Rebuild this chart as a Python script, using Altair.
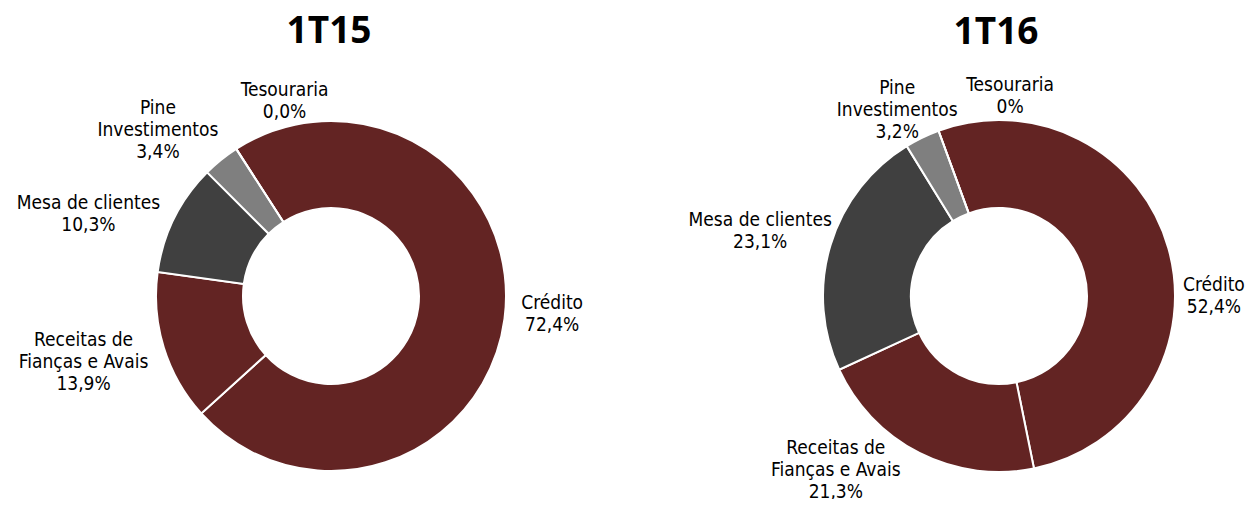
import math
import altair as alt
import pandas as pd

# ---- data ----
categories = ["Crédito", "Receitas de Fianças e Avais", "Mesa de clientes",
              "Pine Investimentos", "Tesouraria"]
label_names = ["Crédito", "Receitas de\nFianças e Avais", "Mesa de clientes",
               "Pine\nInvestimentos", "Tesouraria"]
periods = ["1T15", "1T16"]
values_1t15 = [72.4, 13.9, 10.3, 3.4, 0.0]
values_1t16 = [52.4, 21.3, 23.1, 3.2, 0.0]
pct_1t15 = ["72,4%", "13,9%", "10,3%", "3,4%", "0,0%"]
pct_1t16 = ["52,4%", "21,3%", "23,1%", "3,2%", "0%"]

# ---- styles / layout ----
colors = ["#632423", "#632423", "#404040", "#7f7f7f", "#ffffff"]
FONT = "DejaVu Sans Condensed, Liberation Sans, sans-serif"
TITLE_FONT = "Open Sans, Noto Sans, sans-serif"
W, H = 1240, 491
R_IN, R_LABEL = 88, 215
FS, LH = 19, 22

layout = {
    "1T15": dict(cx=323, cy=288, tx=321, ty=35, start=-32.8, r_out=175,
                 nudge={"Crédito": (8, -10), "Receitas de Fianças e Avais": (-42, 3),
                        "Mesa de clientes": (-50, 14), "Pine Investimentos": (-38, 1),
                        "Tesouraria": (70, -14)}),
    "1T16": dict(cx=991, cy=288, tx=988, ty=36, start=-20.1, r_out=176,
                 nudge={"Crédito": (8, 58), "Receitas de Fianças e Avais": (-66, -18),
                        "Mesa de clientes": (-33, -3), "Pine Investimentos": (-8, 7),
                        "Tesouraria": (85, 2)}),
}

color_scale = alt.Scale(domain=categories, range=colors)

layers = []
for period, vals, pcts in [(periods[0], values_1t15, pct_1t15),
                           (periods[1], values_1t16, pct_1t16)]:
    L = layout[period]
    df = pd.DataFrame({"category": categories, "name": label_names,
                       "value": vals, "pct": pcts, "order": list(range(len(categories)))})
    s = math.radians(L["start"])
    theta_scale = alt.Scale(domain=[0, 100], range=[s, s + 2 * math.pi])

    base = (alt.Chart(df)
            .transform_window(end="sum(value)", sort=[alt.SortField("order")], frame=[None, 0])
            .transform_calculate(start="datum.end - datum.value",
                                 mid="(datum.start + datum.end) / 2",
                                 label="datum.name + '\\n' + datum.pct"))

    arc = base.mark_arc(radius=L["r_out"], innerRadius=R_IN, stroke="white", strokeWidth=2).encode(
        theta=alt.Theta("start:Q", scale=theta_scale, stack=None),
        theta2="end:Q",
        color=alt.Color("category:N", scale=color_scale, legend=None),
        x=alt.value(L["cx"]), y=alt.value(L["cy"]),
    )
    layers.append(arc)

    for cat, name in zip(categories, label_names):
        dx, dy = L["nudge"][cat]
        n_lines = name.count("\n") + 2
        dy_block = dy - (n_lines - 1) * LH / 2  # centre the whole multi-line block
        txt = (base.transform_filter(alt.datum.category == cat)
               .mark_text(radius=R_LABEL, align="center", baseline="middle", lineBreak="\n",
                          font=FONT, fontSize=FS, lineHeight=LH, color="#000000",
                          dx=dx, dy=dy_block)
               .encode(theta=alt.Theta("mid:Q", scale=theta_scale, stack=None),
                       text="label:N",
                       x=alt.value(L["cx"]), y=alt.value(L["cy"])))
        layers.append(txt)

    title = (alt.Chart(pd.DataFrame({"period": [period]}))
             .mark_text(font=TITLE_FONT, fontSize=37, fontWeight="bold",
                        baseline="alphabetic", align="center", color="#000000")
             .encode(text="period:N", x=alt.value(L["tx"]), y=alt.value(L["ty"])))
    layers.append(title)

chart = (alt.layer(*layers)
         .resolve_scale(theta="independent")
         .properties(width=W, height=H, padding=0,
                     autosize=alt.AutoSizeParams(type="none"))
         .configure_view(stroke=None))

chart.save("out.html", embed_options={"renderer": "svg", "actions": False})
